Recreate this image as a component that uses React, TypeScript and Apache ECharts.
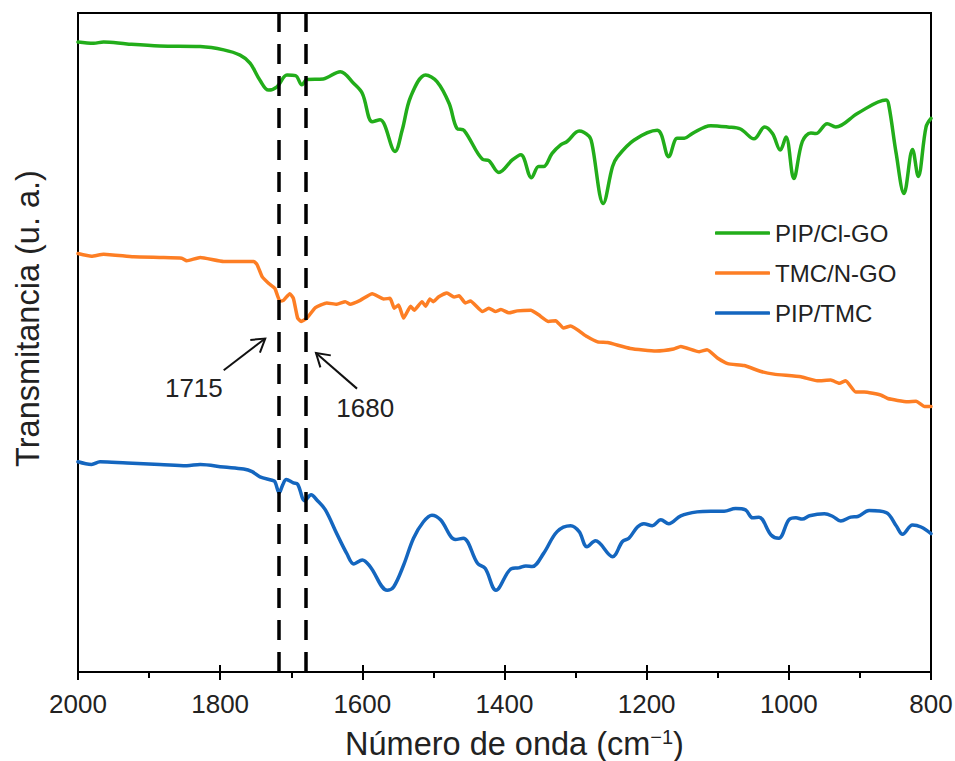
import React, { useEffect, useRef } from "react";
import * as echarts from "echarts";

// ---- data (wavenumber in cm^-1, transmittance in arbitrary units, offset curves) ----
const seriesNames = ["PIP/Cl-GO", "TMC/N-GO", "PIP/TMC"];
const seriesColors = ["#22ad1a", "#fd7e24", "#1466bf"];

const pipClGoX = [2000,1978,1964,1931,1885,1828,1795,1772,1758,1744,1732,1720,1706,1694,1685,1678,1655,1631,1612,1600,1586,1575,1554,1544,1532,1511,1495,1478,1467,1457,1431,1422,1408,1389,1377,1362,1352,1345,1333,1321,1312,1295,1281,1277,1261,1248,1241,1218,1185,1169,1157,1147,1136,1110,1086,1068,1049,1034,1023,1012,1004,993,981,969,962,946,934,903,863,859,849,838,826,818,807,800];
const pipClGoY = [95.6,95.4,95.6,95.3,95.0,94.9,94.4,93.6,92.4,89.8,88.3,88.8,90.6,90.5,89.1,89.9,90.0,91.1,89.3,87.8,83.5,83.8,79.0,82.2,87.3,90.6,89.6,86.3,82.5,82.2,77.8,77.6,75.8,77.7,78.5,75.0,76.7,76.7,78.7,80.0,80.5,82.1,81.3,80.2,71.1,76.7,78.2,80.7,82.2,78.2,81.0,81.0,81.7,82.9,82.7,82.4,80.9,82.7,81.7,79.2,81.2,74.9,80.5,81.8,81.7,83.2,82.7,84.8,86.8,85.8,78.7,72.6,79.3,75.2,82.7,84.0];

const tmcNGoX = [2000,1981,1964,1922,1885,1854,1847,1828,1795,1753,1748,1741,1732,1723,1716,1711,1702,1697,1691,1686,1678,1666,1650,1636,1624,1617,1603,1586,1570,1561,1555,1549,1542,1532,1527,1516,1511,1505,1500,1493,1481,1471,1464,1455,1448,1431,1422,1413,1405,1394,1382,1363,1352,1338,1328,1317,1307,1284,1269,1255,1223,1187,1162,1152,1126,1115,1100,1086,1063,1039,1021,983,960,941,929,920,906,894,870,861,833,821,809,800];
const tmcNGoY = [63.5,63.1,63.4,63.0,62.9,62.8,62.4,62.9,62.3,62.3,61.8,60.0,59.0,58.2,56.3,56.4,57.4,56.7,53.7,53.2,53.7,55.3,56.0,55.8,56.2,55.8,56.4,57.4,56.6,56.7,55.2,55.7,53.7,55.5,54.9,56.2,55.5,56.6,56.2,56.9,57.5,56.9,57.1,56.0,56.3,54.7,55.2,54.7,55.0,54.5,54.8,54.9,54.2,53.2,53.3,52.2,52.5,50.9,50.1,50.0,49.1,48.7,49.0,49.4,48.6,48.9,47.6,46.8,46.5,45.6,45.2,44.8,44.2,44.3,43.8,44.2,42.5,42.5,42.0,41.5,41.0,41.1,40.3,40.3];

const pipTmcX = [2000,1981,1969,1931,1885,1847,1828,1795,1767,1755,1744,1727,1723,1717,1712,1707,1697,1691,1681,1672,1664,1652,1636,1622,1612,1600,1589,1565,1556,1542,1528,1514,1502,1490,1469,1458,1438,1427,1412,1390,1380,1370,1361,1345,1326,1307,1295,1284,1272,1248,1234,1225,1213,1204,1192,1180,1169,1152,1129,1110,1091,1075,1061,1051,1042,1025,1014,1000,990,981,971,950,938,927,913,903,887,863,849,840,826,814,800];
const pipTmcY = [31.9,31.5,31.9,31.7,31.5,31.3,31.5,31.1,30.8,30.4,29.6,29.1,28.9,27.2,28.4,29.2,28.7,28.5,26.0,26.9,26.1,24.6,21.0,18.0,16.4,17.0,16.0,12.4,12.9,16.2,20.3,22.8,23.8,23.1,20.1,20.3,16.5,15.7,12.4,15.7,15.8,16.1,16.0,18.0,21.3,22.2,21.3,19.0,19.9,17.5,19.8,20.3,22.0,22.5,22.2,23.1,22.5,23.7,24.3,24.4,24.4,24.8,24.6,23.4,23.5,20.8,20.3,23.1,23.4,23.2,23.7,24.0,23.6,22.9,23.5,23.6,24.5,24.2,22.2,20.9,22.3,22.0,21.0];

const xTicks = { min: 800, max: 2000, interval: 200 };
const markedBands = [1717, 1680];

// annotations: label text, label position, arrow tail, arrow tip (data coords)
const annotationLabels = ["1715", "1680"];
const annotationLabelPos = [[1837, 43.1], [1596, 40.1]];
const annotationTail = [[1795, 45.8], [1607.5, 43.0]];
const annotationTip = [[1736.6, 50.6], [1665.2, 48.4]];

const FONT = "Liberation Sans, Arial, sans-serif";
const TEXT = "#222";

const seriesXs = [pipClGoX, tmcNGoX, pipTmcX];
const seriesYs = [pipClGoY, tmcNGoY, pipTmcY];

export default function App() {
  const ref = useRef<HTMLDivElement>(null);
  useEffect(() => {
    if (!ref.current) return;
    const chart = echarts.init(ref.current, undefined, { renderer: "svg" });
    const series: any[] = seriesNames.map((name, i) => ({
      name,
      type: "line",
      xAxisIndex: 0,
      data: seriesXs[i].map((x, k) => [x, seriesYs[i][k]]),
      showSymbol: false,
      smooth: i === 1 ? 0.15 : 0.35,
      lineStyle: { color: seriesColors[i], width: 3.5, cap: "round", join: "round" },
      itemStyle: { color: seriesColors[i] },
      z: 3,
    }));
    series[0].markLine = {
      silent: true,
      symbol: ["none", "none"],
      label: { show: false },
      lineStyle: { color: "#000", width: 3.5, type: [20, 12] },
      data: markedBands.map((v) => ({ xAxis: v })),
      z: 4,
    };
    const xBase = {
      type: "value",
      min: xTicks.min,
      max: xTicks.max,
      interval: xTicks.interval,
      inverse: true,
      position: "bottom",
      splitLine: { show: false },
    };
    chart.setOption({
      animation: false,
      backgroundColor: "#fff",
      grid: {
        left: 78,
        right: 24,
        top: 13,
        bottom: 89,
        show: true,
        borderColor: "#000",
        borderWidth: 2,
        containLabel: false,
        outerBoundsMode: "none",
      },
      legend: {
        orient: "vertical",
        left: 715,
        top: 221,
        padding: 0,
        itemWidth: 55,
        itemHeight: 3.5,
        itemGap: 16,
        icon: "roundRect",
        data: seriesNames,
        textStyle: { fontFamily: FONT, fontSize: 24, color: TEXT, lineHeight: 24, padding: [0, 0, 0, 0] },
      },
      xAxis: [
        {
          ...xBase,
          name: "Número de onda (cm{sup|−1})",
          nameLocation: "middle",
          nameGap: 55,
          nameTextStyle: {
            fontFamily: FONT,
            fontSize: 32.5,
            color: TEXT,
            padding: [0, 0, 0, 20],
            rich: {
              sup: { fontFamily: FONT, fontSize: 20, color: TEXT, verticalAlign: "top", padding: [0, 0, 10, 0] },
            },
          },
          axisLine: { show: true, lineStyle: { color: "#000", width: 2 } },
          axisTick: { show: true, inside: false, length: 8, lineStyle: { color: "#000", width: 2 } },
          minorTick: { show: true, splitNumber: 2, length: 6, lineStyle: { color: "#000", width: 2 } },
          axisLabel: {
            show: true,
            margin: 19,
            fontFamily: FONT,
            fontSize: 26,
            color: TEXT,
            formatter: (v: number) => String(v),
          },
        },
        {
          ...xBase,
          axisLine: { show: false },
          axisLabel: { show: false },
          axisTick: { show: true, inside: true, length: 7, lineStyle: { color: "#000", width: 2 } },
        },
      ],
      yAxis: {
        type: "value",
        min: 0,
        max: 100,
        name: "Transmitancia (u. a.)",
        nameLocation: "middle",
        nameRotate: 90,
        nameGap: 34,
        nameTextStyle: { fontFamily: FONT, fontSize: 32.5, color: TEXT, padding: [0, 0, 0, 48] },
        axisLine: { show: true, lineStyle: { color: "#000", width: 2 } },
        axisTick: { show: false },
        axisLabel: { show: false },
        splitLine: { show: false },
      },
      series,
    });

    const px = (p: number[]) => chart.convertToPixel({ gridIndex: 0 }, p) as number[];
    const graphics: any[] = [];
    annotationLabels.forEach((label, i) => {
      const lp = px(annotationLabelPos[i]);
      const tail = px(annotationTail[i]);
      const tip = px(annotationTip[i]);
      const ang = Math.atan2(tail[1] - tip[1], tail[0] - tip[0]);
      const arm = 15;
      const spread = (32 * Math.PI) / 180;
      const a1 = [tip[0] + arm * Math.cos(ang + spread), tip[1] + arm * Math.sin(ang + spread)];
      const a2 = [tip[0] + arm * Math.cos(ang - spread), tip[1] + arm * Math.sin(ang - spread)];
      graphics.push({
        type: "line",
        shape: { x1: tail[0], y1: tail[1], x2: tip[0], y2: tip[1] },
        style: { stroke: "#111", lineWidth: 2 },
        z: 10,
      });
      graphics.push({
        type: "polyline",
        shape: { points: [a1, tip, a2] },
        style: { stroke: "#111", lineWidth: 2, fill: null },
        z: 10,
      });
      graphics.push({
        type: "text",
        x: lp[0],
        y: lp[1],
        style: {
          text: label,
          fontFamily: FONT,
          fontSize: 26,
          fill: TEXT,
          align: "center",
          verticalAlign: "middle",
        },
        z: 10,
      });
    });
    chart.setOption({ graphic: graphics });

    return () => chart.dispose();
  }, []);
  return (
    <div
      ref={ref}
      style={{ position: "fixed", left: 0, top: 0, width: 955, height: 761, background: "#fff" }}
    />
  );
}
